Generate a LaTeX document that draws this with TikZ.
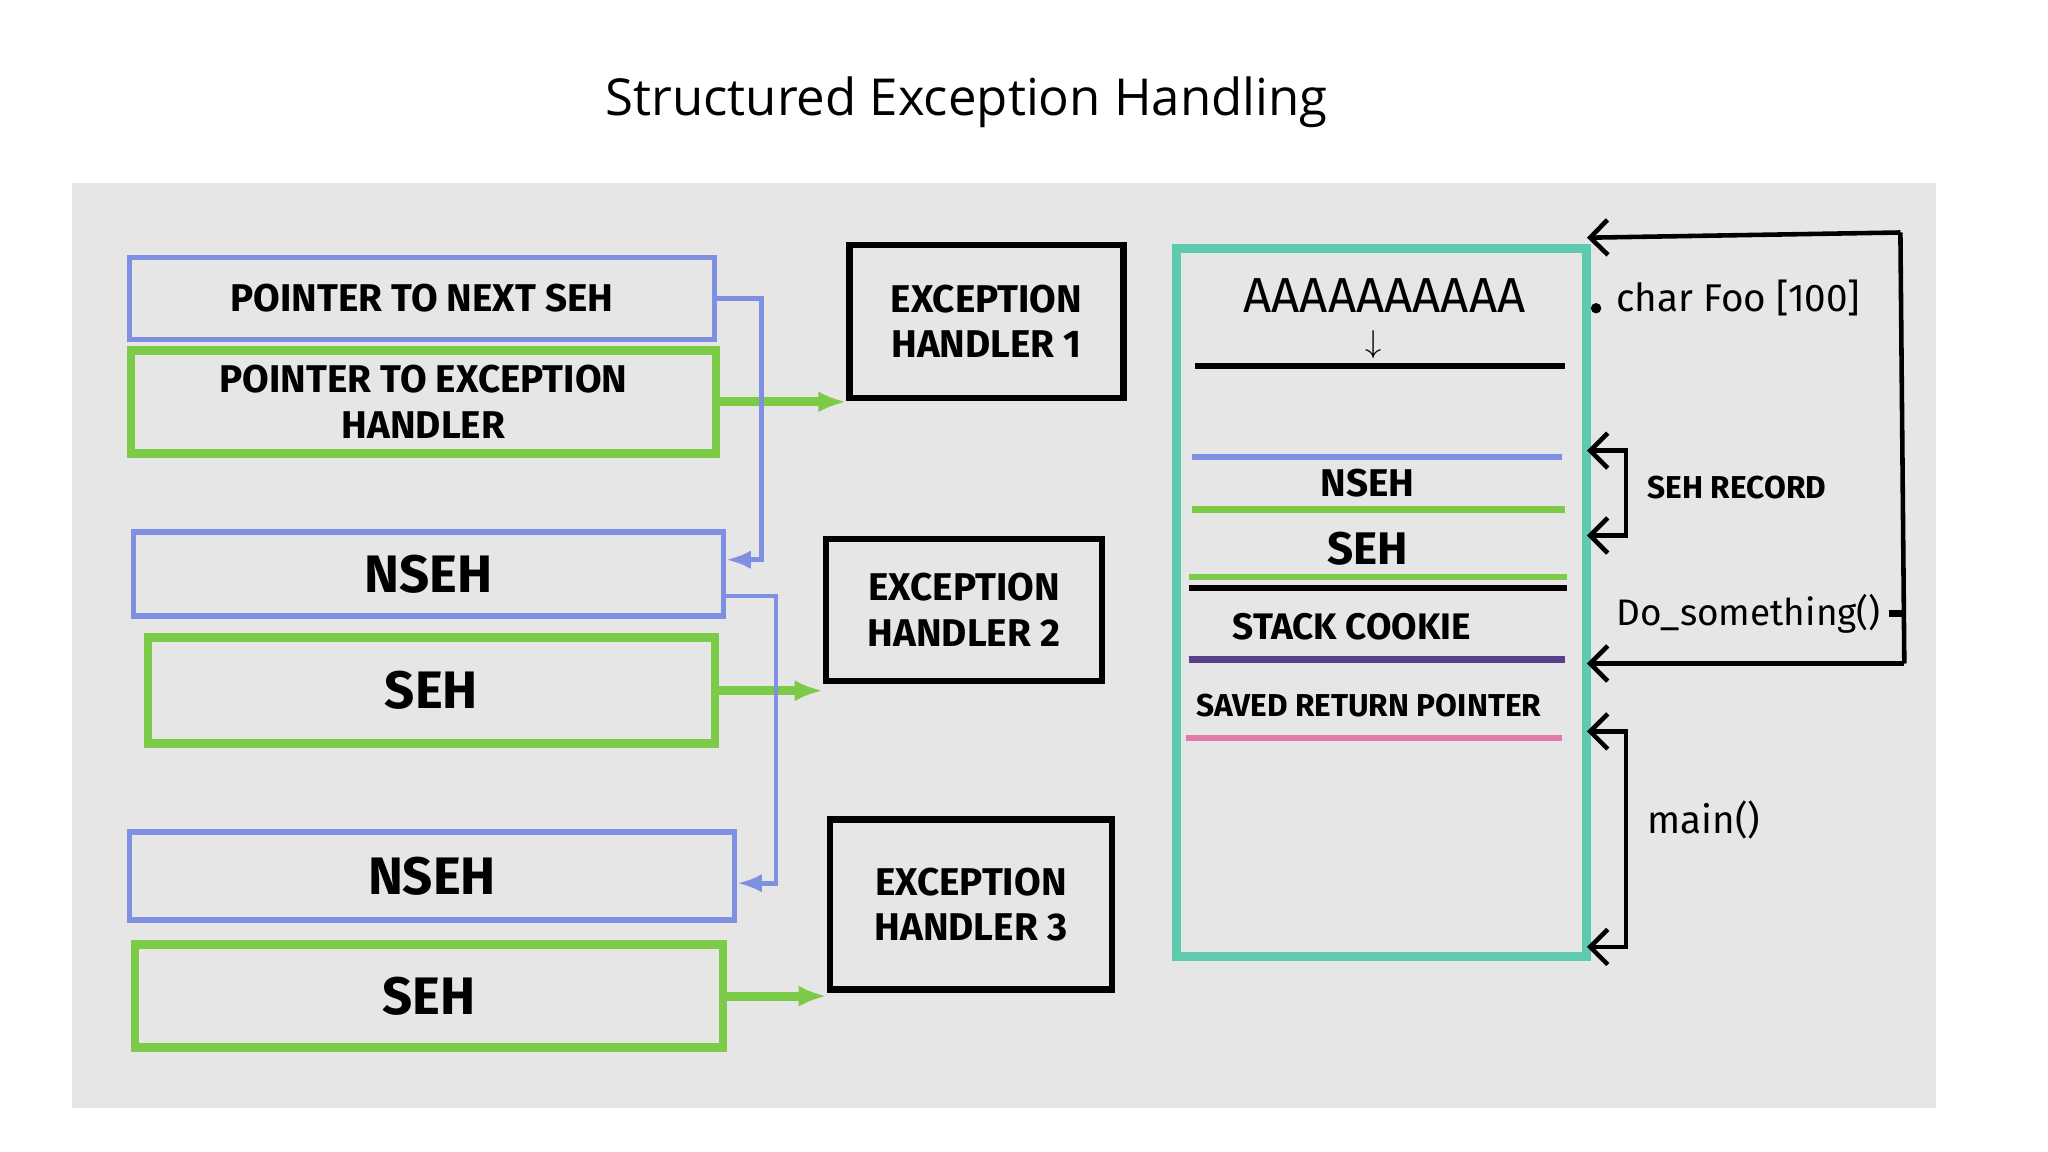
\documentclass[tikz,border=0pt]{standalone}
\usepackage{fontspec}
\setmainfont{Open Sans}
\newfontfamily\hand{Fira Sans}
\usetikzlibrary{arrows.meta}
\definecolor{bblue}{HTML}{7F90E2}
\definecolor{bgreen}{HTML}{7CCB48}
\definecolor{bteal}{HTML}{5FCBAE}
\definecolor{bpurple}{HTML}{5A3F8A}
\definecolor{bpink}{HTML}{E07AA8}
\definecolor{board}{HTML}{E6E6E6}
\tikzset{
 bl/.style={draw=bblue,line width=1.6pt},
 gr/.style={draw=bgreen,line width=2.4pt},
 bk/.style={draw=black,line width=1.8pt},
 txt/.style={font=\hand\bfseries\fontsize{15}{17}\selectfont,align=center},
 stxt/.style={font=\hand\bfseries\fontsize{11}{13}\selectfont,align=center},
 rtxt/.style={font=\hand\fontsize{11}{13}\selectfont,anchor=west},
 garr/.style={draw=bgreen,line width=2.6pt,-{Latex[length=8pt]}},
 barr/.style={draw=bblue,line width=1.3pt,-{Latex[length=7pt]}},
 karr/.style={draw=black,line width=1.3pt,-{Straight Barb[length=5pt]}},
}
\begin{document}
\begin{tikzpicture}[x=0.01306cm,y=-0.01306cm]
\useasboundingbox (0,0) rectangle (1568,882);
\fill[board] (55,140) rectangle (1482,848);
\node[font=\fontsize{14.5}{17}\selectfont] (title) at (740,78) {Structured Exception Handling};
% left chain
\node[bl,minimum width=5.85cm,minimum height=0.82cm,stxt,anchor=north west] (p1) at (97,195) {POINTER TO NEXT SEH};
\node[gr,minimum width=5.85cm,minimum height=1.03cm,stxt,anchor=north west] (p2) at (97,265) {POINTER TO EXCEPTION\\HANDLER};
\node[bl,minimum width=5.9cm,minimum height=0.84cm,txt,anchor=north west] (n2) at (100,405) {NSEH};
\node[gr,minimum width=5.67cm,minimum height=1.06cm,txt,anchor=north west] (s2) at (110,485) {SEH};
\node[bl,minimum width=6.05cm,minimum height=0.88cm,txt,anchor=north west] (n3) at (97,635) {NSEH};
\node[gr,minimum width=5.88cm,minimum height=1.03cm,txt,anchor=north west] (s3) at (100,720) {SEH};
\node[bk,minimum width=2.74cm,minimum height=1.53cm,stxt,anchor=north west] (h1) at (648,185) {EXCEPTION\\HANDLER 1};
\node[bk,minimum width=2.76cm,minimum height=1.42cm,stxt,anchor=north west] (h2) at (630,410) {EXCEPTION\\HANDLER 2};
\node[bk,minimum width=2.82cm,minimum height=1.7cm,stxt,anchor=north west] (h3) at (633,625) {EXCEPTION\\HANDLER 3};
\draw[garr] (p2.east) -- (h1.west|-p2.east);
\draw[garr] (s2.east) -- (h2.west|-s2.east);
\draw[garr] (s3.east) -- (h3.west|-s3.east);
\draw[barr] (p1.east) -- ++(34,0) |- ([yshift=4]n2.east);
\draw[barr] (n2.east) ++(0,17) -- ++(38,0) |- ([yshift=-2]n3.east);
% stack
\node[draw=bteal,line width=2.6pt,minimum width=4.1cm,minimum height=7.08cm,anchor=north west] (st) at (897,187) {};
\node[font=\hand\fontsize{14}{16}\selectfont] (aa) at (1060,226) {AAAAAAAAAA};
\node[font=\hand\fontsize{9}{10}\selectfont] (dn) at (1052,264) {$\downarrow$};
\draw[black,line width=1.6pt] (915,280) -- (1198,280);
\draw[bblue,line width=1.6pt] (913,350) -- (1196,350);
\node[stxt] (nseh) at (1047,370) {NSEH};
\draw[bgreen,line width=2.2pt] (913,390) -- (1198,390);
\node[font=\hand\bfseries\fontsize{13}{15}\selectfont] (seh) at (1047,420) {SEH};
\draw[bgreen,line width=1.8pt] (910,442) -- (1200,442);
\draw[black,line width=1.6pt] (910,450) -- (1200,450);
\node[stxt,font=\hand\bfseries\fontsize{10.5}{12}\selectfont] (ck) at (1035,480) {STACK COOKIE};
\draw[bpurple,line width=1.8pt] (910,505) -- (1198,505);
\node[font=\hand\bfseries\fontsize{9}{11}\selectfont] (srp) at (1048,540) {SAVED RETURN POINTER};
\draw[bpink,line width=1.8pt] (908,565) -- (1196,565);
% right annotations
\coordinate (t1) at (1215,182);
\coordinate (t2) at (1215,508);
\draw[karr] (1455,178) -- (t1);
\draw[black,line width=1.3pt] (1455,178) -- (1458,508);
\draw[karr] (1458,508) -- (t2);
\fill (1222,236) circle (4);
\node[rtxt] (foo) at (1228,228) {char Foo [100]};
\node[rtxt,font=\hand\fontsize{10.5}{12}\selectfont] (dos) at (1228,470) {Do\_something()};
\draw[black,line width=2pt] (1446,470) -- (1458,470);
\coordinate (r1) at (1215,345); \coordinate (r2) at (1215,410);
\draw[karr] (1245,378) |- (r1);
\draw[karr] (1245,378) |- (r2);
\node[rtxt,font=\hand\bfseries\fontsize{9}{11}\selectfont] (rec) at (1252,373) {SEH RECORD};
\coordinate (m1) at (1215,560); \coordinate (m2) at (1215,725);
\draw[karr] (1245,640) |- (m1);
\draw[karr] (1245,640) |- (m2);
\node[rtxt] (mn) at (1252,628) {main()};
\end{tikzpicture}
\end{document}
